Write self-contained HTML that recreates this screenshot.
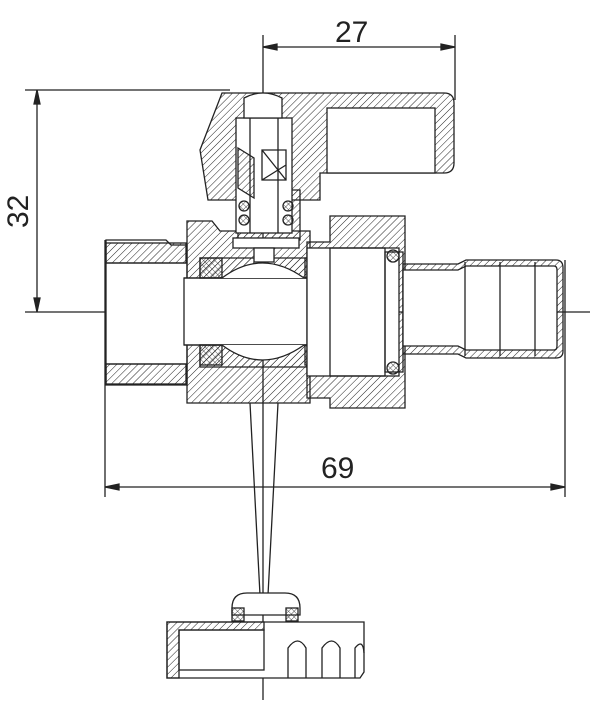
<!DOCTYPE html>
<html><head><style>body{margin:0;background:#fff}svg{display:block}</style></head><body>
<svg width="600" height="712" viewBox="0 0 600 712" xmlns="http://www.w3.org/2000/svg" font-family="Liberation Sans, sans-serif">
<defs>
<pattern id="h" width="5" height="5" patternUnits="userSpaceOnUse" patternTransform="rotate(45)"><line x1="0" y1="0" x2="0" y2="5" stroke="#222" stroke-width="1"/></pattern>
<pattern id="x" width="4" height="4" patternUnits="userSpaceOnUse" patternTransform="rotate(45)"><path d="M0 0V4M0 0H4" stroke="#222" stroke-width="0.8"/></pattern>
</defs>
<g stroke="#222" stroke-width="1.3" fill="none">
<line x1="263" y1="35" x2="263" y2="700"/>
<line x1="455" y1="35" x2="455" y2="100"/>
<line x1="263" y1="47" x2="455" y2="47"/>
<path d="M263 47l14-3v6zM455 47l-14-3v6z" fill="#222"/>
<line x1="25" y1="90" x2="230" y2="90"/>
<line x1="37" y1="90" x2="37" y2="312"/>
<path d="M37 90l-3 14h6zM37 312l-3-14h6z" fill="#222"/>
<line x1="25" y1="312" x2="590" y2="312"/>
<line x1="105" y1="240" x2="105" y2="497"/>
<line x1="565" y1="260" x2="565" y2="497"/>
<line x1="105" y1="487" x2="565" y2="487"/>
<path d="M105 487l14-3v6zM565 487l-14-3v6z" fill="#222"/>
<!-- left pipe end -->
<path d="M106 240h60l5 5h16v140h-81z" fill="#fff"/>
<rect x="106" y="243" width="80" height="20" fill="url(#h)"/>
<rect x="106" y="364" width="80" height="20" fill="url(#h)"/>
<line x1="106" y1="263" x2="186" y2="263"/><line x1="106" y1="364" x2="186" y2="364"/>
<!-- hex body -->
<path d="M187 221h25l8 10h90v172h-123z" fill="url(#h)"/>
<rect x="184" y="278" width="124" height="67" fill="#fff"/>
<path d="M184 278h124M184 345h124"/>
<path d="M200 258h125v20h-125zM200 345h125v22h-125z" fill="url(#h)"/>
<path d="M222 278q40-30 82 0M222 345q40 30 82 0" fill="#fff"/>
<rect x="200" y="258" width="22" height="20" fill="url(#x)"/>
<rect x="200" y="345" width="22" height="20" fill="url(#x)"/>
<rect x="305" y="258" width="22" height="20" fill="url(#x)"/>
<rect x="305" y="345" width="22" height="20" fill="url(#x)"/>
<!-- union nut -->
<path d="M330 216h75v192h-75v-10h-23v-156h23z" fill="url(#h)"/>
<rect x="307" y="248" width="92" height="128" fill="#fff"/>
<rect x="330" y="248" width="55" height="128"/>
<rect x="385" y="252" width="18" height="120"/>
<circle cx="393" cy="256" r="6" fill="url(#x)"/>
<circle cx="393" cy="368" r="6" fill="url(#x)"/>
<!-- hose barb -->
<path d="M403 264h55l8-4h90q7 0 7 8v83q0 7-7 7h-90l-8-4h-55z" fill="url(#h)"/>
<path d="M403 270h55l8-4h88q3 0 3 4v76q0 4-3 4h-88l-8-4h-55z" fill="#fff"/>
<line x1="465" y1="262" x2="465" y2="356"/><line x1="500" y1="262" x2="500" y2="356"/><line x1="535" y1="262" x2="535" y2="356"/>
<!-- handle -->
<path d="M222 93h222q10 0 10 10v60q0 10-10 10h-124v27h-112l-8-50z" fill="url(#h)"/>
<rect x="327" y="108" width="108" height="65" fill="#fff"/>
<!-- stem -->
<path d="M238 190h62v50h-62z" fill="url(#h)"/>
<rect x="236" y="118" width="56" height="115" fill="#fff"/>
<path d="M250 118v115M278 118v115M244 98q19-10 38 0v20h-38z" fill="#fff"/>
<path d="M238 148l16 10v40l-16-10z" fill="url(#h)"/>
<path d="M262 150h24v30h-24zM262 150l24 30M262 180l24-15"/>
<circle cx="244" cy="206" r="5" fill="url(#x)"/><circle cx="244" cy="220" r="5" fill="url(#x)"/>
<circle cx="288" cy="206" r="5" fill="url(#x)"/><circle cx="288" cy="220" r="5" fill="url(#x)"/>
<rect x="233" y="238" width="66" height="10" fill="#fff"/>
<rect x="254" y="248" width="20" height="14" fill="#fff"/>
<!-- lower lever -->
<path d="M250 403L260 595M278 403L268 595"/>
<path d="M232 608q0-15 15-15h38q15 0 15 15v7h-68z" fill="#fff"/>
<rect x="232" y="608" width="12" height="13" fill="url(#x)"/>
<rect x="286" y="608" width="12" height="13" fill="url(#x)"/>
<path d="M167 622h197v50l-4 6h-193z" fill="#fff"/>
<path d="M167 622h97v8h-85v48h-12z" fill="url(#h)"/>
<rect x="179" y="630" width="85" height="40"/>
<path d="M288 678v-30q10-14 18 0v30M322 678v-30q10-14 18 0v30M355 678v-30q8-10 9 5"/>
</g>
<g fill="#222" font-size="30">
<text x="335" y="42">27</text>
<text x="321" y="478">69</text>
<text transform="translate(28 228) rotate(-90)">32</text>
</g>
</svg>
</body></html>
